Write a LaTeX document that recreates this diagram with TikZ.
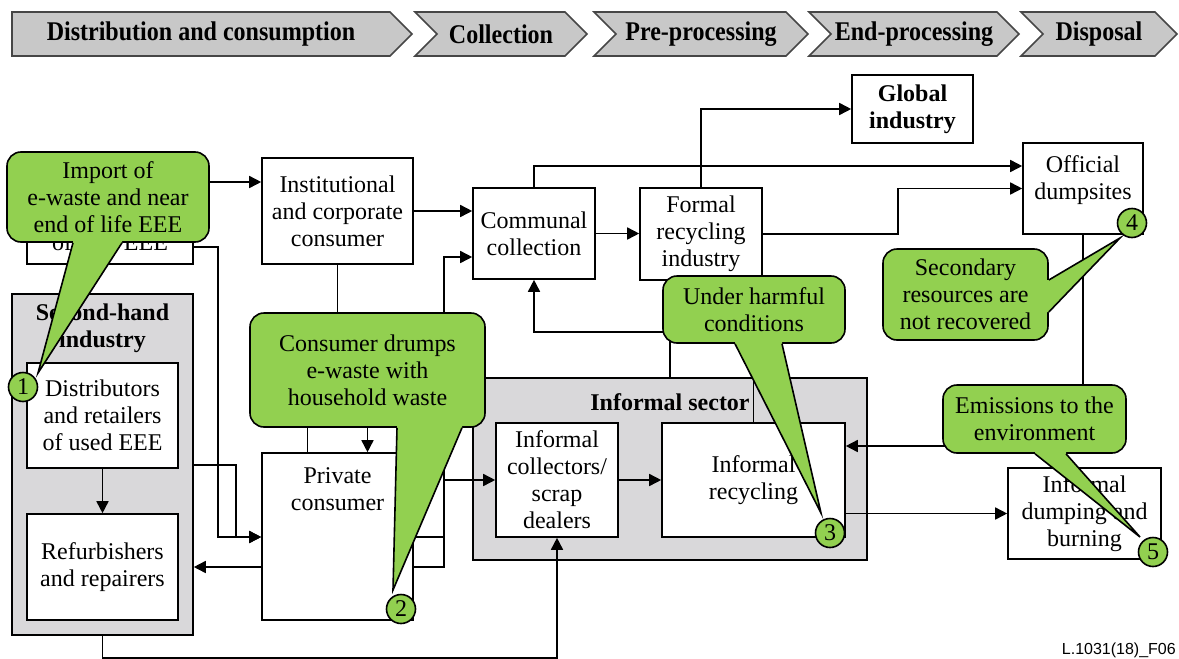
\documentclass[tikz,border=0pt]{standalone}
\usepackage{fontspec}
\setmainfont{Liberation Serif}
\newfontfamily\headfont[FakeStretch=0.89]{Liberation Serif}
\newfontfamily\codefont{Liberation Sans}
\usepackage{tikz}
\usetikzlibrary{arrows.meta, positioning, shapes}

\newcommand{\bodysize}{\fontsize{24}{27}\selectfont}

\definecolor{bubblegreen}{RGB}{146,208,80}
\definecolor{sectorgray}{RGB}{217,216,218}
\definecolor{stagegray}{RGB}{200,200,200}
\definecolor{stageline}{RGB}{70,70,70}

\tikzset{
  stage/.style  = {signal, signal to=east, draw=stageline, fill=stagegray, line width=1.6pt,
                   minimum height=44pt, inner sep=0pt, font=\headfont\bfseries\fontsize{27}{30}\selectfont},
  box/.style    = {draw, fill=white, rectangle, line width=1.6pt, align=center, inner sep=0pt},
  sector/.style = {draw, fill=sectorgray, rectangle, line width=1.6pt, inner sep=0pt},
  bubble/.style = {draw, fill=bubblegreen, rounded corners=14pt, line width=1.6pt, align=center, inner sep=0pt},
  tail/.style   = {draw, line width=1.6pt, line join=miter},
  num/.style    = {draw, fill=bubblegreen, circle, line width=1.6pt, minimum size=29pt, inner sep=0pt},
  arr/.style    = {draw, line width=1.6pt, -{Triangle[length=12pt, width=12pt]}},
  link/.style   = {draw, line width=1.6pt},
}

\begin{document}
\begin{tikzpicture}[x=1pt, y=-1pt, font=\bodysize]

\useasboundingbox (0,0) rectangle (1179,659);

% stages
\node [stage                  , minimum width=400pt] (s1) at (201,34)  {Distribution and consumption};
\node [stage, signal from=west, minimum width=172pt] (s2) at (501,34)  {Collection};
\node [stage, signal from=west, minimum width=214pt] (s3) at (701,34)  {Pre-processing};
\node [stage, signal from=west, minimum width=210pt] (s4) at (914,34)  {End-processing};
\node [stage, signal from=west, minimum width=156pt] (s5) at (1099,34) {Disposal};

% sectors
\node [sector, minimum width=181pt, minimum height=341pt] (shi)  at (102.5,464.5) {};
\node [font=\bodysize\bfseries, align=center, anchor=north, inner sep=0pt] (shit) at (102.5,303.6) {Second-hand\\industry};
\node [sector, minimum width=394pt, minimum height=182pt] (infs) at (670,469) {};
\node [font=\bodysize\bfseries, inner sep=0pt] (infst) at (670,402) {Informal sector};

% boxes
\node [box, minimum width=166pt, minimum height=104pt] (imp)  at (110,212)     {};
\node [anchor=base, inner sep=0pt                    ] (impt) at (110,250)     {of new EEE};
\node [box, minimum width=151pt, minimum height=105pt] (dis)  at (102.5,415.5) {Distributors\\and retailers\\of used EEE};
\node [box, minimum width=151pt, minimum height=106pt] (ref)  at (102.5,567)   {Refurbishers\\and repairers};
\node [box, minimum width=151pt, minimum height=106pt] (inst) at (337.5,211)   {Institutional\\and corporate\\consumer};
\node [box, minimum width=151pt, minimum height=167pt] (priv) at (337.5,536.5) {};
\node [anchor=north, align=center, inner sep=0pt     ] (privt) at (337.5,467)  {Private\\consumer};
\node [box, minimum width=122pt, minimum height=91pt ] (comm) at (534,233.5)   {Communal\\collection};
\node [box, minimum width=122pt, minimum height=92pt ] (form) at (701,234)     {Formal\\recycling\\industry};
\node [box, minimum width=121pt, minimum height=68pt, font=\bodysize\bfseries] (glob) at (912.5,109) {Global\\industry};
\node [box, minimum width=120pt, minimum height=91pt ] (offd) at (1083,188.5)  {};
\node [anchor=north, align=center, inner sep=0pt     ] (offdt) at (1083,155.6) {Official\\dumpsites};
\node [box, minimum width=122pt, minimum height=114pt] (icol) at (557,480)     {Informal\\collectors/\\scrap\\dealers};
\node [box, minimum width=183pt, minimum height=114pt] (irec) at (753.5,480)   {Informal\\recycling};
\node [box, minimum width=153pt, minimum height=91pt ] (idum) at (1084.5,513.5) {Informal\\dumping and\\burning};

% flows
\path [arr] (imp.east |- 0,182) -- (inst.west |- 0,182);
\path [arr] (inst.east) -- (comm.west |- inst.east);
\path [arr] (comm.east) -- (form.west |- comm.east);
\path [arr] (form.north) |- (glob.west);
\path [arr] (comm.north) |- (offd.west |- 0,166);
\path [arr] (form.east) -- ++(135,0) |- (offd.west);
\path [arr] (offd.south) |- (irec.east |- 0,446);
\path [arr] (irec.east |- idum.west) -- (idum.west);
\path [arr] (icol.east) -- (irec.west);
\path [arr] (infs.north) |- (comm.south |- 0,332) -- (comm.south);
\path [arr] (irec.north) -- (irec.north |- form.south);

\path [arr] (priv.east |- 0,537) -- ++(30,0) |- (icol.west);
\path [arr] (priv.east |- 0,567) -- ++(30,0) |- (comm.west |- 0,257);
\path [arr] (inst.south) -- ++(0,136) -| ([xshift=30pt]priv.north);
\path [link] ([xshift=-30pt]priv.north) -- ++(0,-80) -| (inst.south);

\path [arr] (shi.east |- 0,465) -- ++(42,0) |- (priv.west |- 0,537);
\path [arr] (imp.east |- 0,247) -- ++(24,0) |- (priv.west |- 0,537);
\path [arr] (priv.west |- 0,567) -- (shi.east |- 0,567);
\path [arr] (dis) -- (ref);
\path [arr] (shi.south) -- ++(0,22) -| (icol.south);

% callouts
\node [bubble, minimum width=202pt, minimum height=90pt] (b1) at (108,197) {Import of\\e-waste and near\\end of life EEE};
\coordinate (t1) at (38,373);
\fill [bubblegreen] ([xshift=-35pt]b1.south) -- (t1) -- ([xshift=14pt]b1.south) -- ([xshift=14pt, yshift=3pt]b1.south) -- ([xshift=-35pt, yshift=3pt]b1.south) -- cycle;
\path [tail] ([xshift=-35pt]b1.south) -- (t1) -- ([xshift=14pt]b1.south);

\node [bubble, minimum width=235pt, minimum height=114pt] (b2) at (367.5,370) {Consumer drumps\\e-waste with\\household waste};
\coordinate (t2) at (393,590);
\fill [bubblegreen] ([xshift=29.5pt]b2.south) -- (t2) -- ([xshift=94.5pt]b2.south) -- ([xshift=94.5pt, yshift=3pt]b2.south) -- ([xshift=29.5pt, yshift=3pt]b2.south) -- cycle;
\path [tail] ([xshift=29.5pt]b2.south) -- (t2) -- ([xshift=94.5pt]b2.south);

\node [bubble, minimum width=182pt, minimum height=67pt] (b3) at (754,309.5) {Under harmful\\conditions};
\coordinate (t3) at (821,513);
\fill [bubblegreen] ([xshift=-19pt]b3.south) -- (t3) -- ([xshift=28pt]b3.south) -- ([xshift=28pt, yshift=3pt]b3.south) -- ([xshift=-19pt, yshift=3pt]b3.south) -- cycle;
\path [tail] ([xshift=-19pt]b3.south) -- (t3) -- ([xshift=28pt]b3.south);

\node [bubble, minimum width=165pt, minimum height=91pt] (b4) at (965.5,294.5) {Secondary\\resources are\\not recovered};
\coordinate (t4) at (1120,238);
\fill [bubblegreen] ([yshift=14.5pt]b4.east) -- (t4) -- ([yshift=-17.5pt]b4.east) -- ([xshift=-3pt, yshift=-17.5pt]b4.east) -- ([xshift=-3pt, yshift=14.5pt]b4.east) -- cycle;
\path [tail] ([yshift=14.5pt]b4.east) -- (t4) -- ([yshift=-17.5pt]b4.east);

\node [bubble, minimum width=183pt, minimum height=68pt] (b5) at (1034.5,419) {Emissions to the\\environment};
\coordinate (t5) at (1140,537);
\fill [bubblegreen] ([xshift=0.5pt]b5.south) -- (t5) -- ([xshift=31.5pt]b5.south) -- ([xshift=31.5pt, yshift=3pt]b5.south) -- ([xshift=0.5pt, yshift=3pt]b5.south) -- cycle;
\path [tail] ([xshift=0.5pt]b5.south) -- (t5) -- ([xshift=31.5pt]b5.south);

% numbers
\node [num] (n1) at (23,387)   {1};
\node [num] (n2) at (401,609)  {2};
\node [num] (n3) at (830,533)  {3};
\node [num] (n4) at (1132,223) {4};
\node [num] (n5) at (1153,552) {5};

\node [anchor=base east, inner sep=0pt, font=\codefont\fontsize{16}{18}\selectfont] (code) at (1176,654) {L.1031(18)\_F06};

\end{tikzpicture}
\end{document}
